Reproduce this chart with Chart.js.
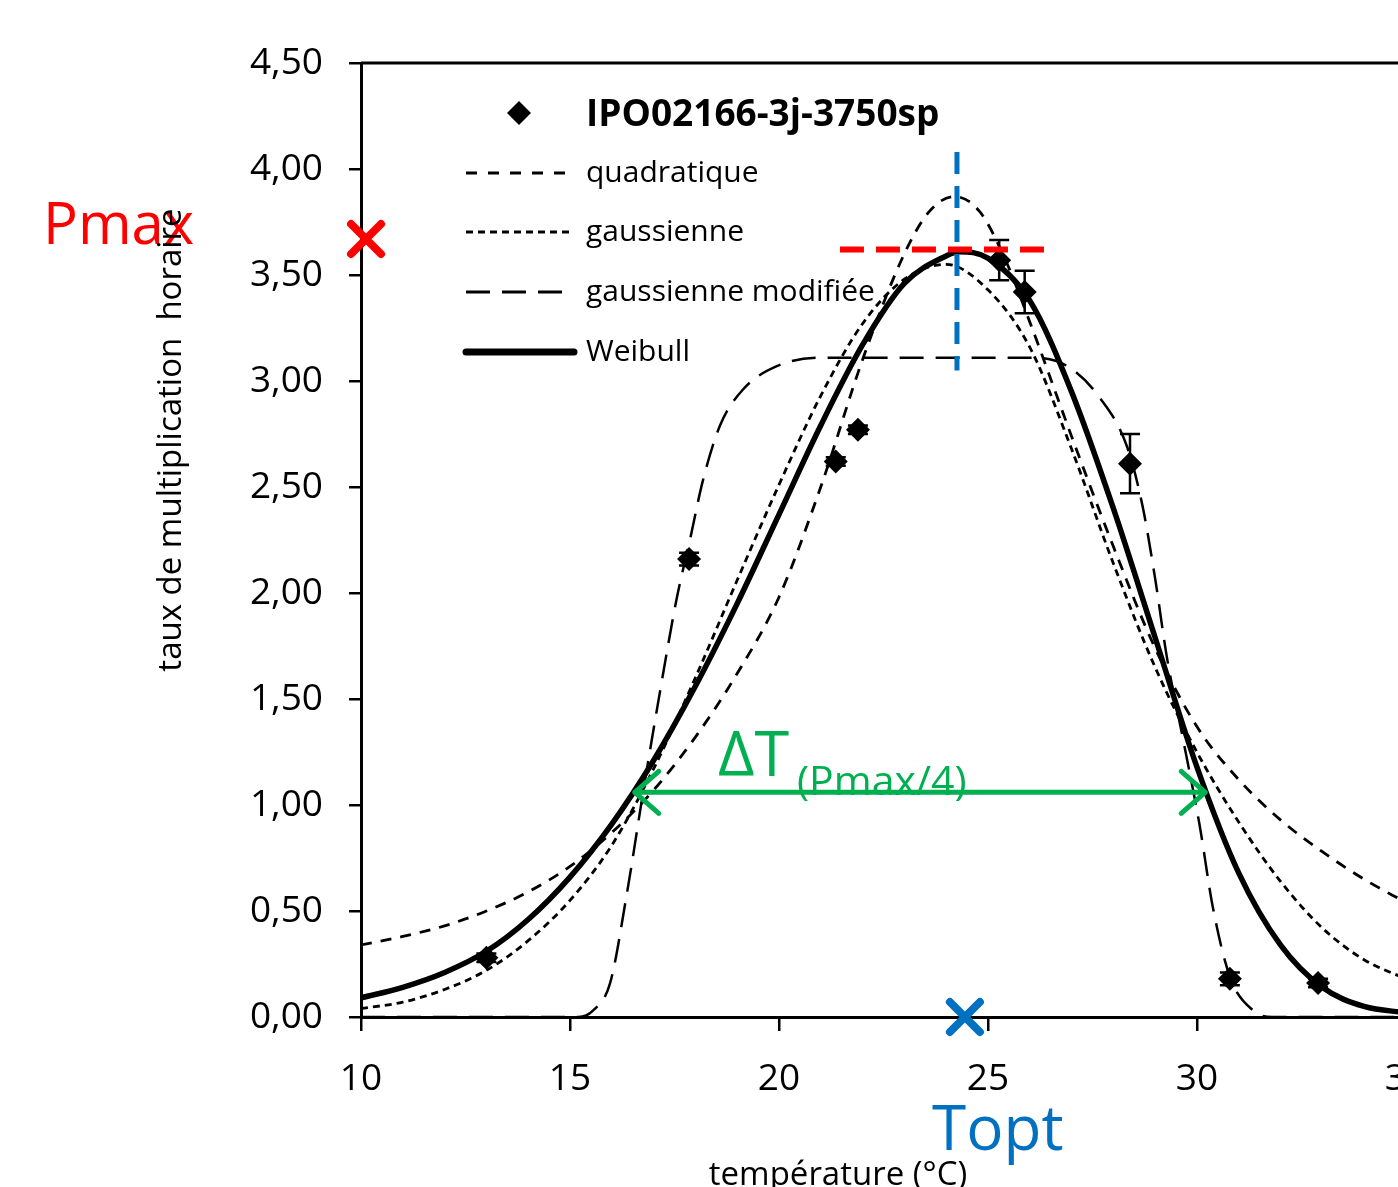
<!DOCTYPE html>
<html>
<head>
<meta charset="utf-8">
<script src="https://cdn.jsdelivr.net/npm/chart.js@4/dist/chart.umd.min.js"></script>
<style>
  body { margin:0; background:#fff; }
  #wrap { width:1398px; height:1187px; overflow:hidden; position:relative; }
  canvas { display:block; }
</style>
</head>
<body>
<div id="wrap"><canvas id="chart" width="1453" height="1187"></canvas></div>
<script>
// observed points
const obsTemp = [13.0, 17.85, 21.36, 21.89, 25.27, 25.88, 28.4, 30.79, 32.9];
const obsRate = [0.28, 2.16, 2.62, 2.77, 3.57, 3.42, 2.61, 0.18, 0.16];
const obsErr  = [0.02, 0.03, 0.02, 0.02, 0.095, 0.10, 0.14, 0.03, 0.02];

// fitted curves
const quadTemp = [10, 11, 12, 13, 14, 15, 16, 17, 18, 19, 20, 21, 22, 23, 23.6, 24.2, 24.8, 25.4, 26, 27, 28, 29, 30, 31, 32, 33, 34, 35];
const quadRate = [0.34, 0.38, 0.43, 0.50, 0.59, 0.71, 0.87, 1.07, 1.32, 1.62, 1.98, 2.50, 3.10, 3.60, 3.80, 3.87, 3.80, 3.58, 3.28, 2.74, 2.22, 1.74, 1.37, 1.12, 0.93, 0.78, 0.65, 0.54];

const gaussTemp = [10, 11, 12, 13, 14, 15, 16, 17, 18, 19, 20, 21, 22, 23, 24, 25, 26, 27, 28, 29, 30, 31, 32, 33, 34, 35];
const gaussRate = [0.04, 0.07, 0.13, 0.22, 0.36, 0.55, 0.81, 1.17, 1.60, 2.06, 2.51, 2.93, 3.27, 3.48, 3.55, 3.43, 3.16, 2.68, 2.14, 1.65, 1.25, 0.92, 0.64, 0.42, 0.27, 0.18];

const gmodTemp = [10, 15.2, 15.55, 15.96, 16.36, 16.75, 17.15, 17.56, 17.87, 18.18, 18.59, 19.14, 19.95, 20.98, 26.1, 26.9, 27.68, 28.33, 28.7, 29.0, 29.28, 29.67, 30.07, 30.38, 30.79, 31.35, 31.8, 35];
const gmodRate = [0, 0, 0.03, 0.16, 0.58, 1.06, 1.53, 1.98, 2.25, 2.53, 2.79, 2.96, 3.07, 3.11, 3.11, 3.07, 2.92, 2.69, 2.41, 2.07, 1.70, 1.31, 0.90, 0.52, 0.19, 0.03, 0, 0];

const weibTemp = [10, 11, 12, 13, 14, 15, 16, 17, 18, 19, 20, 21, 22, 23, 24, 24.3, 25, 26, 27, 28, 29, 30, 31, 32, 33, 34, 35];
const weibRate = [0.09, 0.14, 0.21, 0.31, 0.46, 0.66, 0.91, 1.21, 1.56, 1.95, 2.37, 2.79, 3.17, 3.46, 3.59, 3.61, 3.58, 3.38, 2.95, 2.40, 1.79, 1.18, 0.68, 0.34, 0.14, 0.05, 0.02];

const legendLabels = ["IPO02166-3j-3750sp", "quadratique", "gaussienne", "gaussienne modifiée", "Weibull"];

// annotation values
const pmax = 3.62, topt = 24.26;
const dtLeft = 16.55, dtRight = 30.2, dtLevel = 1.06;

const FONT = "'Open Sans', sans-serif";
const pts = (xs, ys) => xs.map((x, i) => ({ x, y: ys[i] }));

const curve = (data, width, dash, order) => ({
  data, borderColor: "#000", borderWidth: width, borderDash: dash,
  pointRadius: 0, fill: false, cubicInterpolationMode: "monotone", order
});

const extras = {
  id: "extras",
  beforeDatasetsDraw(chart) {
    const { ctx, scales: { x, y } } = chart;
    ctx.save();
    ctx.strokeStyle = "#000";
    ctx.lineWidth = 2.5;
    obsTemp.forEach((t, i) => {
      const px = x.getPixelForValue(t);
      const top = y.getPixelForValue(obsRate[i] + obsErr[i]);
      const bot = y.getPixelForValue(obsRate[i] - obsErr[i]);
      ctx.beginPath();
      ctx.moveTo(px, top); ctx.lineTo(px, bot);
      ctx.moveTo(px - 10, top); ctx.lineTo(px + 10, top);
      ctx.moveTo(px - 10, bot); ctx.lineTo(px + 10, bot);
      ctx.stroke();
    });
    ctx.restore();
  },
  afterDatasetsDraw(chart) {
    const { ctx, chartArea: a, scales: { x, y } } = chart;
    ctx.save();
    // frame top/right
    ctx.strokeStyle = "#000"; ctx.lineWidth = 3;
    ctx.beginPath();
    ctx.moveTo(a.left, a.top); ctx.lineTo(a.right, a.top); ctx.lineTo(a.right, a.bottom);
    ctx.stroke();

    // Pmax dashed line
    ctx.strokeStyle = "#ff0000"; ctx.lineWidth = 6; ctx.setLineDash([24, 12]);
    ctx.beginPath();
    ctx.moveTo(x.getPixelForValue(21.46), y.getPixelForValue(pmax));
    ctx.lineTo(x.getPixelForValue(26.6), y.getPixelForValue(pmax));
    ctx.stroke();

    // Topt dashed line
    ctx.strokeStyle = "#0070c0"; ctx.lineWidth = 5; ctx.setLineDash([22, 12]);
    ctx.beginPath();
    ctx.moveTo(x.getPixelForValue(topt), y.getPixelForValue(4.08));
    ctx.lineTo(x.getPixelForValue(topt), y.getPixelForValue(3.05));
    ctx.stroke();
    ctx.setLineDash([]);

    // crosses
    const cross = (px, py, col) => {
      ctx.strokeStyle = col; ctx.lineWidth = 8; ctx.lineCap = "round";
      ctx.beginPath();
      ctx.moveTo(px - 15, py - 15); ctx.lineTo(px + 15, py + 15);
      ctx.moveTo(px + 15, py - 15); ctx.lineTo(px - 15, py + 15);
      ctx.stroke();
    };
    cross(x.getPixelForValue(10.12), y.getPixelForValue(3.67), "#ff0000");
    cross(x.getPixelForValue(24.45), y.getPixelForValue(0), "#0070c0");

    // delta T arrow
    const l = x.getPixelForValue(dtLeft), r = x.getPixelForValue(dtRight), yy = y.getPixelForValue(dtLevel);
    ctx.strokeStyle = "#00b050"; ctx.lineWidth = 5; ctx.lineCap = "round"; ctx.lineJoin = "round";
    ctx.beginPath();
    ctx.moveTo(l, yy); ctx.lineTo(r, yy);
    ctx.moveTo(l + 24, yy - 21); ctx.lineTo(l, yy); ctx.lineTo(l + 24, yy + 21);
    ctx.moveTo(r - 24, yy - 21); ctx.lineTo(r, yy); ctx.lineTo(r - 24, yy + 21);
    ctx.stroke();

    // texts
    ctx.textBaseline = "alphabetic"; ctx.textAlign = "left";
    ctx.fillStyle = "#00b050";
    ctx.font = "63px " + FONT;
    ctx.fillText("ΔT", 718, 776);
    ctx.font = "41px " + FONT;
    ctx.fillText("(Pmax/4)", 797, 795);

    ctx.fillStyle = "#ff0000";
    ctx.font = "58px " + FONT;
    ctx.fillText("Pmax", 43, 244);

    ctx.fillStyle = "#0070c0";
    ctx.font = "62px " + FONT;
    ctx.fillText("Topt", 932, 1150);

    // axis titles
    ctx.fillStyle = "#000";
    ctx.font = "33px " + FONT;
    ctx.textAlign = "center";
    ctx.fillText("température (°C)", 838, 1185);
    ctx.save();
    ctx.translate(181, 440);
    ctx.rotate(-Math.PI / 2);
    ctx.fillText("taux de multiplication  horaire", 0, 0);
    ctx.restore();

    // legend
    ctx.textAlign = "left"; ctx.textBaseline = "middle";
    ctx.fillStyle = "#000";
    ctx.beginPath();
    ctx.moveTo(519, 101); ctx.lineTo(531, 113); ctx.lineTo(519, 125); ctx.lineTo(507, 113);
    ctx.closePath(); ctx.fill();
    ctx.font = "bold 37px " + FONT;
    ctx.fillText(legendLabels[0], 586, 115);

    const rows = [
      [legendLabels[1], 173, 3, [11, 11], "butt"],
      [legendLabels[2], 232, 3, [7, 5], "butt"],
      [legendLabels[3], 292, 3, [24, 12], "butt"],
      [legendLabels[4], 352, 7, [], "round"]
    ];
    ctx.font = "30px " + FONT;
    rows.forEach(([txt, ry, w, dash, cap]) => {
      ctx.strokeStyle = "#000"; ctx.lineWidth = w; ctx.setLineDash(dash); ctx.lineCap = cap;
      ctx.beginPath(); ctx.moveTo(466, ry); ctx.lineTo(574, ry); ctx.stroke();
      ctx.setLineDash([]);
      ctx.fillText(txt, 586, ry);
    });
    ctx.restore();
  }
};

new Chart(document.getElementById("chart"), {
  type: "line",
  data: {
    datasets: [
      { data: pts(obsTemp, obsRate), showLine: false, pointStyle: "rectRot",
        pointRadius: 12, pointBackgroundColor: "#000", pointBorderColor: "#000",
        pointBorderWidth: 0, order: 0 },
      curve(pts(quadTemp, quadRate), 2.8, [11, 9], 2),
      curve(pts(gaussTemp, gaussRate), 2.8, [7, 5], 3),
      curve(pts(gmodTemp, gmodRate), 2.5, [24, 12], 4),
      curve(pts(weibTemp, weibRate), 5.5, [], 1)
    ]
  },
  options: {
    responsive: false,
    animation: false,
    devicePixelRatio: 1,
    layout: { padding: { top: 63, right: 34, left: 0, bottom: 0 } },
    plugins: { legend: { display: false }, tooltip: { enabled: false } },
    scales: {
      x: {
        type: "linear", min: 10, max: 35,
        ticks: { stepSize: 5, color: "#000", font: { family: FONT, size: 37 }, padding: 26, maxRotation: 0 },
        grid: { drawOnChartArea: false, color: "#000", lineWidth: 2.5, tickLength: 14 },
        border: { color: "#000", width: 3 },
        afterFit: s => { s.height = 170; }
      },
      y: {
        min: 0, max: 4.5,
        ticks: { stepSize: 0.5, color: "#000", font: { family: FONT, size: 37 }, padding: 26,
                 callback: v => v.toFixed(2).replace(".", ",") },
        grid: { drawOnChartArea: false, color: "#000", lineWidth: 2.5, tickLength: 12 },
        border: { color: "#000", width: 3 },
        afterFit: s => { s.width = 361; }
      }
    }
  },
  plugins: [extras]
});
</script>
</body>
</html>
